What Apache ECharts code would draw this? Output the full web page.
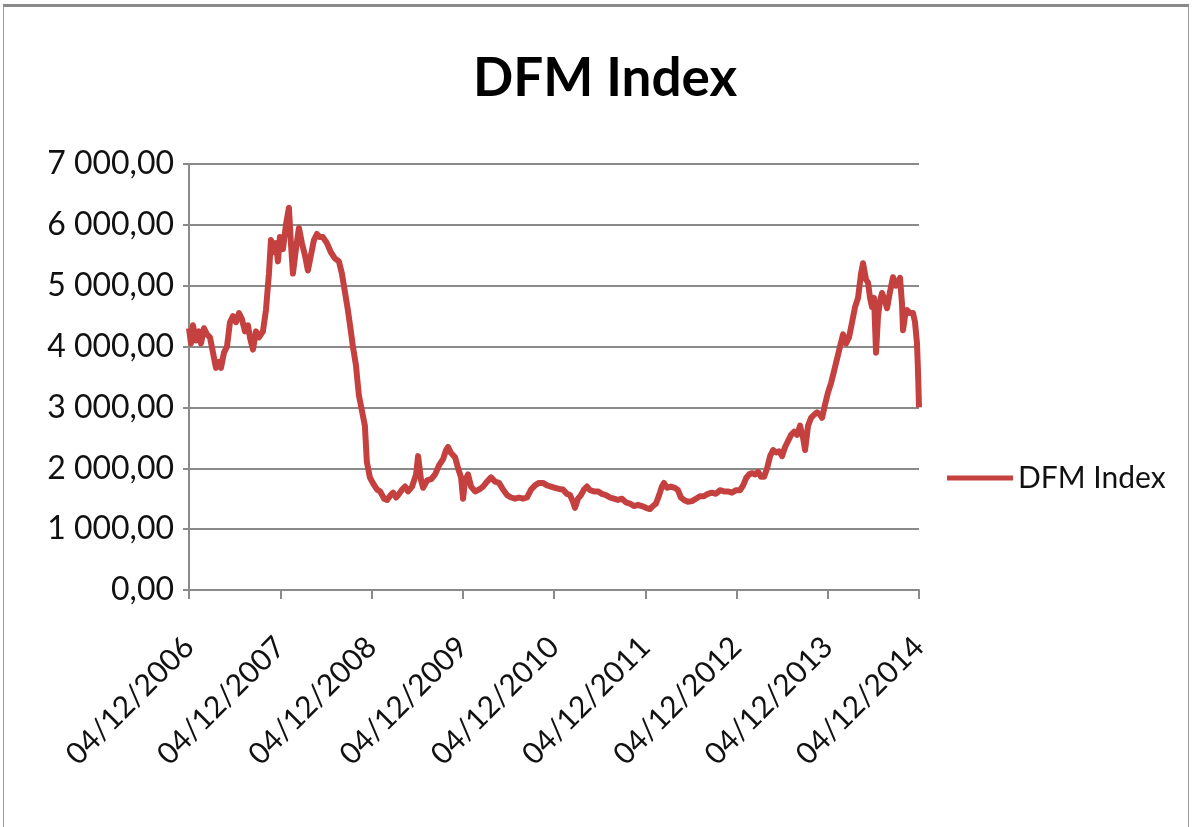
<!DOCTYPE html>
<html>
<head>
<meta charset="utf-8">
<script src="https://cdn.jsdelivr.net/npm/echarts@6/dist/echarts.min.js"></script>
<style>
html,body{margin:0;padding:0;background:#fff;}
#chart{position:absolute;left:0;top:0;width:1192px;height:827px;}
#frame{position:absolute;left:3px;top:4px;width:1184px;height:840px;border-top:3px solid #8a8a8a;border-left:1px solid #9a9a9a;border-right:1px solid #9a9a9a;pointer-events:none;}
</style>
</head>
<body>
<div id="chart"></div>
<div id="frame"></div>
<script>
const title = 'DFM Index';
const seriesName = 'DFM Index';
const startDate = '2006-12-04';
const xTickLabels = ['04/12/2006','04/12/2007','04/12/2008','04/12/2009','04/12/2010','04/12/2011','04/12/2012','04/12/2013','04/12/2014'];
const yTickLabels = ['0,00','1 000,00','2 000,00','3 000,00','4 000,00','5 000,00','6 000,00','7 000,00'];

const dates = [
'2006-12-04','2006-12-12','2006-12-20','2007-01-01','2007-01-13','2007-01-21','2007-02-02','2007-02-14','2007-02-26','2007-03-10',
'2007-03-22','2007-04-03','2007-04-11','2007-04-23','2007-05-05','2007-05-17','2007-05-29','2007-06-10','2007-06-22','2007-07-04',
'2007-07-16','2007-07-28','2007-08-05','2007-08-17','2007-08-29','2007-09-10','2007-09-26','2007-10-08','2007-10-20','2007-10-28',
'2007-11-09','2007-11-17','2007-11-25','2007-12-03','2007-12-15','2007-12-27','2008-01-08','2008-01-16','2008-01-24','2008-02-05',
'2008-02-17','2008-02-29','2008-03-12','2008-03-24','2008-04-05','2008-04-17','2008-04-29','2008-05-11','2008-05-23','2008-06-08',
'2008-06-24','2008-07-10','2008-07-26','2008-08-07','2008-08-19','2008-08-31','2008-09-12','2008-09-20','2008-10-02','2008-10-14',
'2008-10-26','2008-11-07','2008-11-15','2008-11-27','2008-12-10','2008-12-26','2009-01-07','2009-01-23','2009-02-04','2009-02-16',
'2009-02-28','2009-03-12','2009-03-24','2009-04-05','2009-04-17','2009-04-29','2009-05-15','2009-05-31','2009-06-08','2009-06-20',
'2009-06-28','2009-07-14','2009-07-30','2009-08-15','2009-08-31','2009-09-16','2009-09-28','2009-10-06','2009-10-18','2009-11-03',
'2009-11-15','2009-11-27','2009-12-05','2009-12-13','2009-12-25','2010-01-06','2010-01-22','2010-02-07','2010-02-23','2010-03-11',
'2010-03-27','2010-04-12','2010-04-28','2010-05-14','2010-05-30','2010-06-15','2010-07-01','2010-07-17','2010-08-02','2010-08-18',
'2010-09-03','2010-09-19','2010-10-05','2010-10-21','2010-11-06','2010-11-22','2010-12-08','2010-12-24','2011-01-09','2011-01-25',
'2011-02-06','2011-02-18','2011-02-26','2011-03-10','2011-03-22','2011-04-03','2011-04-15','2011-04-27','2011-05-13','2011-05-29',
'2011-06-14','2011-06-30','2011-07-16','2011-08-01','2011-08-17','2011-09-02','2011-09-18','2011-10-04','2011-10-20','2011-11-05',
'2011-11-21','2011-12-07','2011-12-23','2012-01-04','2012-01-16','2012-01-28','2012-02-09','2012-02-17','2012-02-29','2012-03-16',
'2012-04-01','2012-04-13','2012-04-25','2012-05-07','2012-05-23','2012-06-08','2012-06-24','2012-07-10','2012-07-26','2012-08-11',
'2012-08-27','2012-09-12','2012-09-28','2012-10-14','2012-10-30','2012-11-15','2012-12-02','2012-12-18','2012-12-30','2013-01-11',
'2013-01-23','2013-02-04','2013-02-16','2013-02-28','2013-03-12','2013-03-24','2013-04-05','2013-04-17','2013-04-29','2013-05-11',
'2013-05-23','2013-06-04','2013-06-16','2013-06-28','2013-07-10','2013-07-22','2013-08-03','2013-08-15','2013-08-27','2013-09-04',
'2013-09-16','2013-09-28','2013-10-10','2013-10-22','2013-11-03','2013-11-11','2013-11-23','2013-12-05','2013-12-17','2013-12-29',
'2014-01-10','2014-01-22','2014-02-03','2014-02-15','2014-02-27','2014-03-11','2014-03-23','2014-04-04','2014-04-16','2014-04-24',
'2014-05-06','2014-05-14','2014-05-22','2014-05-30','2014-06-07','2014-06-15','2014-06-23','2014-07-01','2014-07-09','2014-07-21',
'2014-07-29','2014-08-10','2014-08-22','2014-09-03','2014-09-11','2014-09-19','2014-09-27','2014-10-01','2014-10-09','2014-10-17',
'2014-10-29','2014-11-10','2014-11-18','2014-11-26','2014-11-30','2014-12-04'
];

const values = [
4300,4050,4350,4100,4250,4050,4300,4200,4150,3900,
3650,3750,3650,3900,4000,4400,4500,4400,4550,4450,
4250,4350,4150,3950,4250,4150,4250,4600,5200,5750,
5550,5700,5400,5800,5600,6000,6280,5700,5200,5600,
5950,5700,5500,5250,5500,5750,5850,5800,5800,5700,
5550,5450,5400,5200,4900,4600,4250,4000,3700,3200,
2950,2700,2100,1850,1750,1650,1620,1500,1480,1550,
1600,1520,1580,1650,1700,1620,1700,1900,2200,1800,
1680,1800,1820,1900,2050,2150,2300,2350,2250,2180,
2000,1850,1500,1800,1900,1700,1620,1650,1700,1780,
1850,1780,1760,1650,1560,1520,1500,1520,1500,1520,
1650,1720,1760,1760,1720,1700,1680,1660,1650,1580,
1560,1450,1350,1500,1560,1650,1700,1640,1620,1620,
1580,1560,1520,1500,1480,1500,1440,1420,1380,1400,
1380,1350,1330,1380,1420,1550,1700,1760,1680,1700,
1680,1640,1520,1480,1450,1460,1500,1540,1540,1580,
1600,1580,1640,1620,1620,1600,1640,1640,1720,1840,
1900,1920,1900,1940,1860,1860,2000,2200,2300,2260,
2280,2200,2350,2450,2550,2600,2550,2700,2500,2300,
2700,2830,2880,2920,2880,2830,3050,3250,3400,3600,
3800,4000,4200,4050,4150,4400,4650,4800,5200,5370,
5100,5050,4800,4650,4800,3900,4500,4750,4880,4750,
4630,4900,5140,5000,5050,5130,4700,4270,4500,4600,
4550,4550,4400,4050,3600,3000
];

const DAY = 86400000;
const t0 = Date.parse(startDate);
const YEAR_DAYS = 365.25;
const seriesData = dates.map((d, i) => [(Date.parse(d) - t0) / DAY, values[i]]);

const FONT = 'Lato';
const axisGray = '#8a8a8a';
const textColor = '#111111';

const chart = echarts.init(document.getElementById('chart'), null, {renderer: 'canvas'});
chart.setOption({
  backgroundColor: '#ffffff',
  animation: false,
  title: {
    text: title,
    left: 600,
    top: 47,
    textAlign: 'center',
    textStyle: {fontFamily: FONT, fontSize: 53, fontWeight: 'bold', color: '#000'}
  },
  legend: {
    data: [seriesName],
    left: 942,
    top: 458,
    icon: 'rect',
    itemWidth: 66,
    itemHeight: 5,
    itemGap: 5,
    textStyle: {fontFamily: FONT, fontSize: 30, color: textColor}
  },
  grid: {left: 189, right: 273, top: 164, bottom: 237, containLabel: false},
  xAxis: {
    type: 'value',
    min: 0,
    max: 8 * YEAR_DAYS,
    interval: YEAR_DAYS,
    splitLine: {show: false},
    axisLine: {show: true, lineStyle: {color: axisGray, width: 2}},
    axisTick: {show: true, length: 9, lineStyle: {color: axisGray, width: 2}},
    axisLabel: {
      rotate: 45,
      margin: 52,
      fontFamily: FONT,
      fontSize: 30,
      color: textColor,
      showMinLabel: true,
      showMaxLabel: true,
      formatter: function (v) {
        const k = Math.round(v / YEAR_DAYS);
        return Math.abs(v - k * YEAR_DAYS) < 0.01 ? (xTickLabels[k] || '') : '';
      }
    }
  },
  yAxis: {
    type: 'value',
    min: 0,
    max: 7000,
    interval: 1000,
    splitLine: {show: true, lineStyle: {color: axisGray, width: 2}},
    axisLine: {show: true, lineStyle: {color: axisGray, width: 2}},
    axisTick: {show: true, length: 6, lineStyle: {color: axisGray, width: 2}},
    axisLabel: {
      margin: 15,
      fontFamily: FONT,
      fontSize: 32,
      color: textColor,
      formatter: function (v) { return yTickLabels[Math.round(v / 1000)]; }
    }
  },
  series: [{
    name: seriesName,
    type: 'line',
    data: seriesData,
    showSymbol: false,
    symbol: 'none',
    color: '#C4413F',
    lineStyle: {color: '#C4413F', width: 6, join: 'round'}
  }]
});
</script>
</body>
</html>
